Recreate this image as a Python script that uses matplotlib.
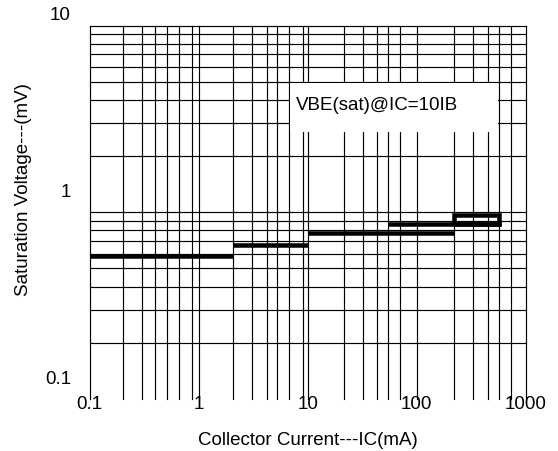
import matplotlib
matplotlib.use("Agg")
import matplotlib.pyplot as plt
from matplotlib.patches import Rectangle
from matplotlib.ticker import NullLocator
from matplotlib.transforms import ScaledTranslation

plt.rcParams['font.family'] = ['Liberation Sans', 'DejaVu Sans']

# VBE(sat) steps: start current, end current, level
seg_start = [0.1, 2.08, 10, 54]
seg_end = [2.08, 10, 220, 590]
seg_level = [0.58, 0.67, 0.77, 0.87]
# small closed box at the high-current end
box_ic = [220, 570, 570, 220, 220]
box_v = [0.87, 0.87, 0.965, 0.965, 0.87]

x_ticks = [0.1, 1, 10, 100, 1000]
x_labels = ['0.1', '1', '10', '100', '1000']
y_ticks = [0.1, 1, 10]
y_labels = ['0.1', '1', '10']

# grid lines as they are drawn on the sheet (not quite regular)
x_grid = [0.1, 0.2, 0.3, 0.4, 0.51, 0.66, 0.86, 1,
          2.08, 3.1, 4.2, 5.2, 6.8, 9.0, 10,
          21.7, 32.4, 43.5, 54, 71, 100,
          220, 330, 448, 570, 730, 1000]
y_grid = [0.2, 0.3, 0.4, 0.5, 0.6, 0.7, 0.8, 0.9, 1,
          2, 3, 4, 5, 6, 7, 8, 9, 10]

fs = 13.5

fig = plt.figure(figsize=(5.58, 4.52), dpi=100)
ax = fig.add_axes([89.7 / 558, 52 / 452, 436 / 558, 373.5 / 452])
ax.set_xscale('log')
ax.set_yscale('log')
ax.set_xlim(0.1, 1000)
ax.set_ylim(0.1, 10)
for s in ax.spines.values():
    s.set_visible(False)

for x in x_grid:
    ax.axvline(x, color='black', lw=0.85, zorder=1, clip_on=False)
for y in y_grid:
    ax.axhline(y, color='black', lw=0.85, zorder=1, clip_on=False)

# white label panel over the grid
ax.add_patch(Rectangle((6.95, 2.68), 555 - 6.95, 4.93 - 2.68,
                       facecolor='white', edgecolor='none', zorder=2))
ax.text(7.8, 3.57, 'VBE(sat)@IC=10IB', fontsize=fs, va='baseline',
        ha='left', zorder=3)

for x0, x1, v in zip(seg_start, seg_end, seg_level):
    ax.plot([x0, x1], [v, v], color='black', lw=3.25,
            solid_capstyle='butt', zorder=4)
ax.plot(box_ic, box_v, color='black', lw=3.25, solid_joinstyle='miter',
        solid_capstyle='butt', zorder=4)

ax.xaxis.set_minor_locator(NullLocator())
ax.yaxis.set_minor_locator(NullLocator())
ax.set_xticks(x_ticks, x_labels)
ax.set_yticks(y_ticks, y_labels)
ax.tick_params(axis='both', length=0, labelsize=fs)
ax.tick_params(axis='x', pad=-3)
ax.tick_params(axis='y', pad=13.5)

# the y labels sit a little above their lines on the original
for lab, dy in zip(ax.get_yticklabels(), [22, 22.6, 13]):
    lab.set_transform(lab.get_transform() +
                      ScaledTranslation(0, dy / 100, fig.dpi_scale_trans))

ax.set_xlabel('Collector Current---IC(mA)', fontsize=fs)
ax.xaxis.set_label_coords(0.5, -0.0858)
ax.set_ylabel('Saturation Voltage---(mV)', fontsize=fs)
ax.yaxis.set_label_coords(-0.132, 0.563)

fig.savefig('out.png', dpi=100)
